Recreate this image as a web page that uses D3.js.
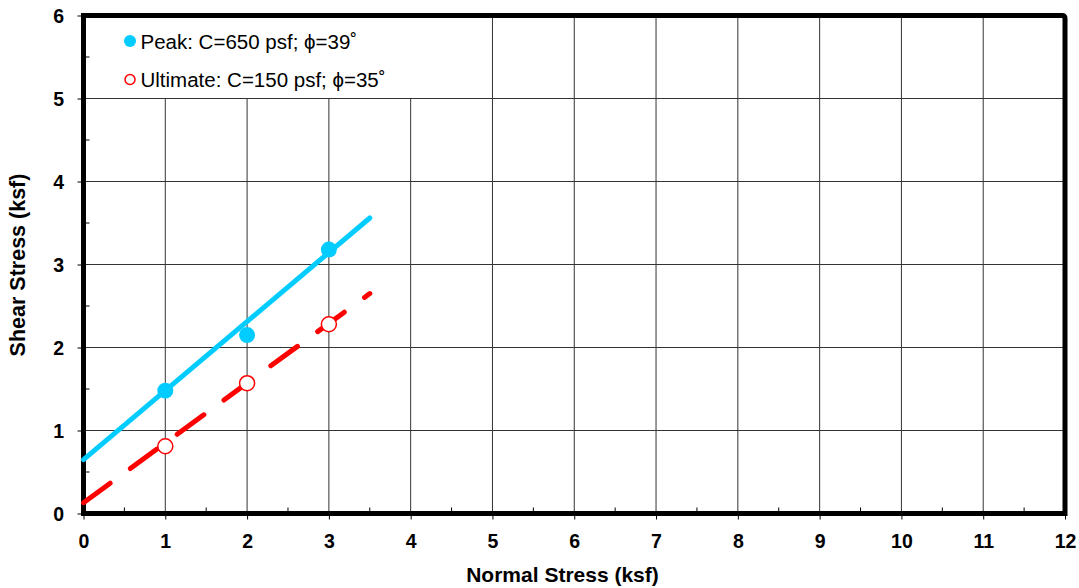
<!DOCTYPE html>
<html><head><meta charset="utf-8">
<script src="https://cdn.jsdelivr.net/npm/d3@7"></script>
<style>body{margin:0;background:#fff;} text{font-family:Arial,"Liberation Sans",sans-serif;}</style>
</head><body><svg id="c" width="1079" height="588"></svg>
<script>
const xTicks = [0,1,2,3,4,5,6,7,8,9,10,11,12];
const yTicks = [0,1,2,3,4,5,6];
const peakX = [1,2,3];
const peakY = [1.48,2.15,3.18];
const ultX = [1,2,3];
const ultY = [0.81,1.57,2.28];
const peakLine = [[0,0.65],[3.5,3.56]];
const ultLine = [[0,0.13],[3.5,2.65]];
const legendLabels = ["Peak: C=650 psf; \u03d5=39\u02da","Ultimate: C=150 psf; \u03d5=35\u02da"];

const svg = d3.select("#c");
const L=83.5,R=1065,T=15.5,B=513.5;
const x = d3.scaleLinear().domain([0,12]).range([L,R]);
const y = d3.scaleLinear().domain([0,6]).range([B,T]);

// grid
const g = svg.append("g");
g.selectAll(".vg").data(xTicks.slice(1,-1)).enter().append("line")
 .attr("x1",d=>x(d)).attr("x2",d=>x(d)).attr("y1",T).attr("y2",B).attr("stroke","#333").attr("stroke-width",1);
g.selectAll(".hg").data(yTicks.slice(1,-1)).enter().append("line")
 .attr("y1",d=>y(d)).attr("y2",d=>y(d)).attr("x1",L).attr("x2",R).attr("stroke","#333").attr("stroke-width",1);

// legend background
svg.append("rect").attr("x",88).attr("y",18).attr("width",340).attr("height",80).attr("fill","#fff");

// minor ticks (inside)
const minorX = d3.range(0.5,12,1), minorY = d3.range(0.5,6,1);
svg.selectAll(".mx").data(minorX).enter().append("line")
 .attr("x1",d=>x(d)).attr("x2",d=>x(d)).attr("y1",B).attr("y2",B-6).attr("stroke","#000");
svg.selectAll(".my").data(minorY).enter().append("line")
 .attr("y1",d=>y(d)).attr("y2",d=>y(d)).attr("x1",L).attr("x2",L+6).attr("stroke","#000");

// axes
const xa = svg.append("g").attr("transform",`translate(0,${B})`)
 .call(d3.axisBottom(x).tickValues(xTicks).tickFormat(d3.format("d")).tickSize(6).tickPadding(15));
const ya = svg.append("g").attr("transform",`translate(${L},0)`)
 .call(d3.axisLeft(y).tickValues(yTicks).tickFormat(d3.format("d")).tickSize(6).tickPadding(13.5));
[xa,ya].forEach(a=>{a.select(".domain").remove();
 a.selectAll("text").attr("font-size",19.5).attr("font-weight","bold").attr("fill","#000").style("font-family","Arial,'Liberation Sans',sans-serif");
 a.selectAll("line").attr("stroke","#000");});
ya.selectAll("text").attr("dy","0.36em");

// border
svg.append("path").attr("d",`M${L},${T}H${R-3}Q${R},${T} ${R},${T+3}V${B}H${L}Z`)
 .attr("fill","none").attr("stroke","#000").attr("stroke-width",5);

// lines
const line = d3.line().x(d=>x(d[0])).y(d=>y(d[1]));
svg.append("path").attr("d",line(peakLine)).attr("stroke","#00CCFF").attr("stroke-width",5).attr("fill","none").attr("stroke-linecap","round");
svg.append("path").attr("d",line(ultLine)).attr("stroke","#FF0000").attr("stroke-width",5).attr("fill","none")
 .attr("stroke-linecap","round").attr("stroke-dasharray","33,25");

// points
svg.selectAll(".pk").data(peakX).enter().append("circle")
 .attr("cx",d=>x(d)).attr("cy",(d,i)=>y(peakY[i])).attr("r",8).attr("fill","#00CCFF");
svg.selectAll(".ul").data(ultX).enter().append("circle")
 .attr("cx",d=>x(d)).attr("cy",(d,i)=>y(ultY[i])).attr("r",7.5).attr("fill","#fff").attr("stroke","#FF0000").attr("stroke-width",1.5);

// legend
svg.append("circle").attr("cx",130).attr("cy",41).attr("r",6).attr("fill","#00CCFF");
svg.append("circle").attr("cx",130).attr("cy",79.5).attr("r",5).attr("fill","#fff").attr("stroke","#FF0000").attr("stroke-width",1.5);
svg.selectAll(".lt").data(legendLabels).enter().append("text")
 .attr("x",140.5).attr("y",(d,i)=>48.5+i*38.5).attr("font-size",20.5).attr("fill","#000").text(d=>d);

// titles
svg.append("text").attr("x",562.5).attr("y",582).attr("text-anchor","middle").attr("font-size",21).attr("font-weight","bold").text("Normal Stress (ksf)");
svg.append("text").attr("transform","translate(24.5,265) rotate(-90)").attr("text-anchor","middle").attr("font-size",21.5).attr("font-weight","bold").text("Shear Stress (ksf)");
</script></body></html>
